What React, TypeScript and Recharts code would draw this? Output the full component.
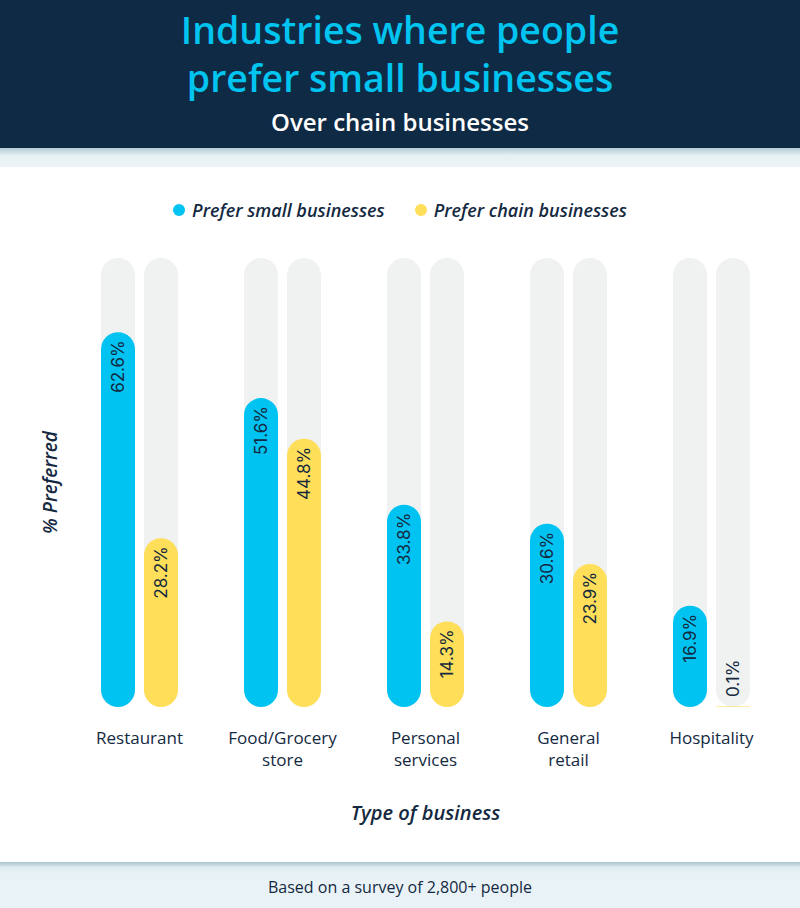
import { Bar, BarChart, Label, LabelList, Legend, XAxis, YAxis } from "recharts";

const categories = ["Restaurant", "Food/Grocery store", "Personal services", "General retail", "Hospitality"];
const smallValues = [62.6, 51.6, 33.8, 30.6, 16.9];
const chainValues = [28.2, 44.8, 14.3, 23.9, 0.1];
const seriesNames = ["Prefer small businesses", "Prefer chain businesses"];
const yDomain = [0, 75];

const data = categories.map((name, i) => ({ name, small: smallValues[i], chain: chainValues[i] }));

const NAVY = "#14293f";
const CYAN = "#00c3f2";
const YELLOW = "#ffde59";
const TRACK = "#f0f1f1";
const FONT = "'Open Sans', sans-serif";

function CategoryTick(props: any) {
    const { x, y, payload } = props;
    const lines = String(payload.value).split(" ");
    return (
        <g>
            {lines.map((line, i) => (
                <text key={i} x={x} y={y + 37 + i * 22} textAnchor="middle" fill={NAVY} fontSize={17}
                    fontFamily={FONT} fontWeight={500}>
                    {line}
                </text>
            ))}
        </g>
    );
}

function ValueLabel(props: any) {
    const { x, y, width, height, value } = props;
    const cx = x + width / 2;
    const big = height > 60;
    const ly = big ? y + 8 : y + height - 10;
    return (
        <text
            x={cx}
            y={ly}
            transform={`rotate(-90 ${cx} ${ly})`}
            textAnchor={big ? "end" : "start"}
            dominantBaseline="central"
            fill={NAVY}
            fontSize={17}
            fontFamily="Inter, sans-serif"
        >
            {value}%
        </text>
    );
}

function YTitle(props: any) {
    const { viewBox } = props;
    const cx = 50;
    const cy = viewBox.y + viewBox.height / 2;
    return (
        <text x={cx} y={cy} transform={`rotate(-90 ${cx} ${cy})`} textAnchor="middle" dominantBaseline="central"
            fill={NAVY} fontSize={19} fontStyle="italic" fontWeight={600} fontFamily={FONT}>
            % Preferred
        </text>
    );
}

function LegendContent(props: any) {
    const items = [...(props.payload || [])].sort(
        (a: any, b: any) => seriesNames.indexOf(a.value) - seriesNames.indexOf(b.value)
    );
    return (
        <div style={{ display: "flex", justifyContent: "center", gap: 30, fontFamily: FONT }}>
            {items.map((p: any) => (
                <div key={p.value} style={{ display: "flex", alignItems: "center" }}>
                    <span style={{ width: 12, height: 12, borderRadius: 6, background: p.color, marginRight: 7 }} />
                    <span style={{ color: NAVY, fontSize: 18, fontStyle: "italic", fontWeight: 600 }}>{p.value}</span>
                </div>
            ))}
        </div>
    );
}

export default function App() {
    return (
        <div style={{ position: "absolute", left: 0, top: 0, width: 800, height: 908, background: "#fff", overflow: "hidden" }}>
            <div style={{ height: 148, background: "#0f2a44", textAlign: "center", fontFamily: FONT }}>
                <div style={{ color: "#00c4f0", fontSize: 37.5, fontWeight: 600, lineHeight: "48px", paddingTop: 6 }}>
                    Industries where people<br />prefer small businesses
                </div>
                <div style={{ color: "#fff", fontSize: 24, fontWeight: 600, lineHeight: "30px", marginTop: 5 }}>
                    Over chain businesses
                </div>
            </div>
            <div style={{ height: 19, background: "linear-gradient(#b4cbd3, #e6f0f3 40%, #edf4f6)" }} />
            <div style={{ position: "absolute", top: 167, left: 0 }}>
                <BarChart width={800} height={697} data={data} margin={{ top: 91, right: 17, left: 0, bottom: 0 }}
                    barGap={9} barCategoryGap={0}>
                    <XAxis dataKey="name" axisLine={false} tickLine={false} tickSize={0} tickMargin={0} height={157}
                        interval={0} tick={<CategoryTick />}>
                        <Label value="Type of business" position="insideBottom" offset={44}
                            style={{ fill: NAVY, fontSize: 20, fontStyle: "italic", fontWeight: 600, fontFamily: FONT }} />
                    </XAxis>
                    <YAxis domain={yDomain} width={68} tick={false} axisLine={false} tickLine={false}>
                        <Label content={<YTitle />} />
                    </YAxis>
                    <Legend verticalAlign="middle" content={<LegendContent />}
                        wrapperStyle={{ top: 31, left: 0, width: 800 }} />
                    <Bar dataKey="small" name={seriesNames[0]} fill={CYAN} barSize={34} radius={17}
                        background={{ fill: TRACK, radius: 17 }} isAnimationActive={false}>
                        <LabelList dataKey="small" content={<ValueLabel />} />
                    </Bar>
                    <Bar dataKey="chain" name={seriesNames[1]} fill={YELLOW} barSize={34} radius={17}
                        background={{ fill: TRACK, radius: 17 }} isAnimationActive={false}>
                        <LabelList dataKey="chain" content={<ValueLabel />} />
                    </Bar>
                </BarChart>
            </div>
            <div style={{ position: "absolute", top: 862, left: 0, width: 800, height: 46,
                background: "linear-gradient(#aac4cd, #dfecf1 12%, #e9f3f7 25%, #e9f3f7)",
                textAlign: "center", fontFamily: FONT, fontSize: 16, color: NAVY, lineHeight: "50px" }}>
                Based on a survey of 2,800+ people
            </div>
        </div>
    );
}
